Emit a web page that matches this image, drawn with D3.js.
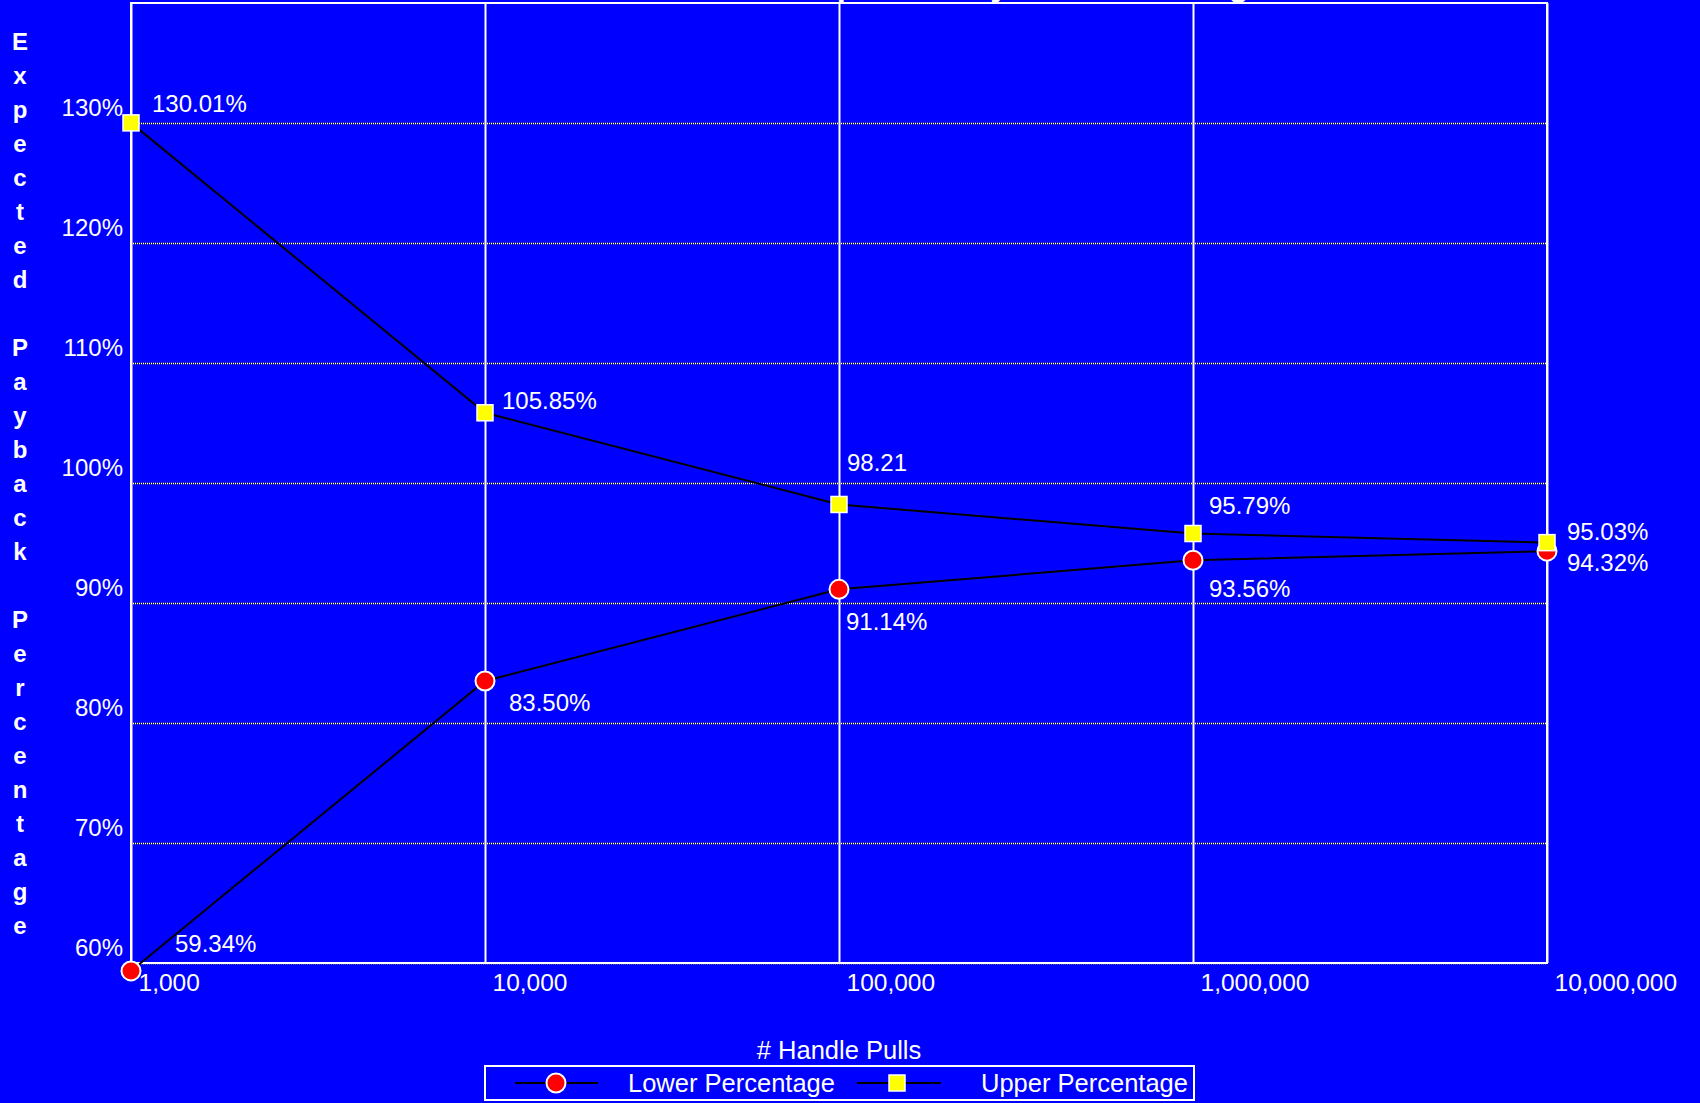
<!DOCTYPE html>
<html>
<head>
<meta charset="utf-8">
<script src="https://cdn.jsdelivr.net/npm/d3@7"></script>
<style>
  html, body { margin: 0; padding: 0; background: #0000ff; }
  svg { display: block; }
  text { font-family: "Liberation Sans", Arial, sans-serif; fill: #fff; }
</style>
</head>
<body>
<svg id="chart" width="1700" height="1103"></svg>
<script>
// Chart data
const categories = ["1,000", "10,000", "100,000", "1,000,000", "10,000,000"];
const lowerValues = [59.34, 83.50, 91.14, 93.56, 94.32];
const upperValues = [130.01, 105.85, 98.21, 95.79, 95.03];
const lowerLabels = ["59.34%", "83.50%", "91.14%", "93.56%", "94.32%"];
const upperLabels = ["130.01%", "105.85%", "98.21", "95.79%", "95.03%"];
const yTicks = [60, 70, 80, 90, 100, 110, 120, 130];
const yDomain = [60, 140];

const chartTitle = "Expected Payback Percentage";
const xTitle = "# Handle Pulls";
const yTitle = "Expected Payback Percentage";
const seriesNames = ["Lower Percentage", "Upper Percentage"];

// Layout
const W = 1700, H = 1103;
const plot = { left: 131, right: 1547, top: 3, bottom: 963 };

// Value-label placement relative to each marker (dx, dy to text start / baseline)
const upperLabelOffsets = [[21, -11], [17, -4], [8, -33], [16, -20], [20, -3]];
const lowerLabelOffsets = [[44, -19], [24, 30], [7, 41], [16, 37], [20, 20]];

const svg = d3.select("#chart");

svg.append("rect").attr("width", W).attr("height", H).attr("fill", "#0000ff");

const x = d3.scalePoint().domain(categories).range([plot.left, plot.right]);
const y = d3.scaleLinear().domain(yDomain).range([plot.bottom, plot.top]);

// Title (sits above the top edge)
svg.append("text")
  .attr("x", 797).attr("y", -4)
  .attr("font-size", 32.5).attr("font-weight", "bold")
  .text(chartTitle);

// Horizontal dotted gridlines + y tick labels
const yAxis = svg.append("g")
  .attr("transform", `translate(${plot.left},0)`)
  .call(d3.axisLeft(y).tickValues(yTicks).tickFormat(d => d + "%")
    .tickSize(-(plot.right - plot.left)).tickPadding(8));
yAxis.select(".domain").remove();
yAxis.selectAll(".tick line").each(function () {
  const sel = d3.select(this);
  const parent = d3.select(this.parentNode);
  parent.insert("line", "line")
    .attr("x2", plot.right - plot.left)
    .attr("stroke", "#222").attr("stroke-width", 1.4);
  sel.attr("stroke", "#fff").attr("stroke-width", 1.4).attr("stroke-dasharray", "1,1");
});
yAxis.selectAll(".tick text")
  .attr("x", -8).attr("y", -8).attr("dy", 0)
  .attr("font-size", 24).attr("fill", "#fff")
  .attr("font-family", "\"Liberation Sans\", Arial, sans-serif");

// Vertical gridlines + x tick labels
const xAxis = svg.append("g")
  .attr("transform", `translate(0,${plot.bottom})`)
  .call(d3.axisBottom(x).tickSize(-(plot.bottom - plot.top)).tickPadding(0));
xAxis.select(".domain").remove();
xAxis.selectAll(".tick line").attr("stroke", "#fff").attr("stroke-width", 2);
xAxis.selectAll(".tick text")
  .attr("text-anchor", "start").attr("x", 7).attr("y", 28).attr("dy", 0)
  .attr("font-size", 24.5).attr("fill", "#fff")
  .attr("font-family", "\"Liberation Sans\", Arial, sans-serif");

// Plot border
svg.append("rect")
  .attr("x", plot.left).attr("y", plot.top)
  .attr("width", plot.right - plot.left).attr("height", plot.bottom - plot.top)
  .attr("fill", "none").attr("stroke", "#fff").attr("stroke-width", 2);

// Series lines
const line = d3.line().x((d, i) => x(categories[i])).y(d => y(d));
[lowerValues, upperValues].forEach(vals => {
  svg.append("path").datum(vals)
    .attr("d", line).attr("fill", "none")
    .attr("stroke", "#000").attr("stroke-width", 2);
});

// Markers
const sq = 16;
svg.append("g").selectAll("circle").data(lowerValues).join("circle")
  .attr("cx", (d, i) => x(categories[i])).attr("cy", d => y(d))
  .attr("r", 9.5).attr("fill", "#ff0000")
  .attr("stroke", "#fff").attr("stroke-width", 2);
svg.append("g").selectAll("rect").data(upperValues).join("rect")
  .attr("x", (d, i) => x(categories[i]) - sq / 2).attr("y", d => y(d) - sq / 2)
  .attr("width", sq).attr("height", sq).attr("fill", "#ffff00")
  .attr("stroke", "#fff").attr("stroke-width", 1.5);

// Value labels
function valueLabels(vals, labels, offsets) {
  svg.append("g").selectAll("text").data(vals).join("text")
    .attr("x", (d, i) => x(categories[i]) + offsets[i][0])
    .attr("y", (d, i) => y(d) + offsets[i][1])
    .attr("font-size", 24)
    .text((d, i) => labels[i]);
}
valueLabels(upperValues, upperLabels, upperLabelOffsets);
valueLabels(lowerValues, lowerLabels, lowerLabelOffsets);

// Y-axis title: one bold letter per line
const yt = svg.append("text").attr("font-size", 24).attr("font-weight", "bold")
  .attr("text-anchor", "middle");
yTitle.split("").forEach((ch, i) => {
  yt.append("tspan").attr("x", 20).attr("y", 50 + i * 34).text(ch === " " ? "\u00a0" : ch);
});

// X-axis title
svg.append("text")
  .attr("x", (plot.left + plot.right) / 2).attr("y", 1059)
  .attr("text-anchor", "middle").attr("font-size", 25.5)
  .text(xTitle);

// Legend
const legend = svg.append("g");
legend.append("rect")
  .attr("x", 485).attr("y", 1066).attr("width", 709).attr("height", 34)
  .attr("fill", "#0000ff").attr("stroke", "#fff").attr("stroke-width", 2);
const ly = 1083;
legend.append("line").attr("x1", 515).attr("x2", 598).attr("y1", ly).attr("y2", ly)
  .attr("stroke", "#000").attr("stroke-width", 2);
legend.append("circle").attr("cx", 556).attr("cy", ly).attr("r", 9.5)
  .attr("fill", "#ff0000").attr("stroke", "#fff").attr("stroke-width", 2);
legend.append("text").attr("x", 628).attr("y", 1092).attr("font-size", 25.5).text(seriesNames[0]);
legend.append("line").attr("x1", 857).attr("x2", 941).attr("y1", ly).attr("y2", ly)
  .attr("stroke", "#000").attr("stroke-width", 2);
legend.append("rect").attr("x", 897 - sq / 2).attr("y", ly - sq / 2).attr("width", sq).attr("height", sq)
  .attr("fill", "#ffff00").attr("stroke", "#fff").attr("stroke-width", 1.5);
legend.append("text").attr("x", 981).attr("y", 1092).attr("font-size", 25.5).text(seriesNames[1]);
</script>
</body>
</html>
